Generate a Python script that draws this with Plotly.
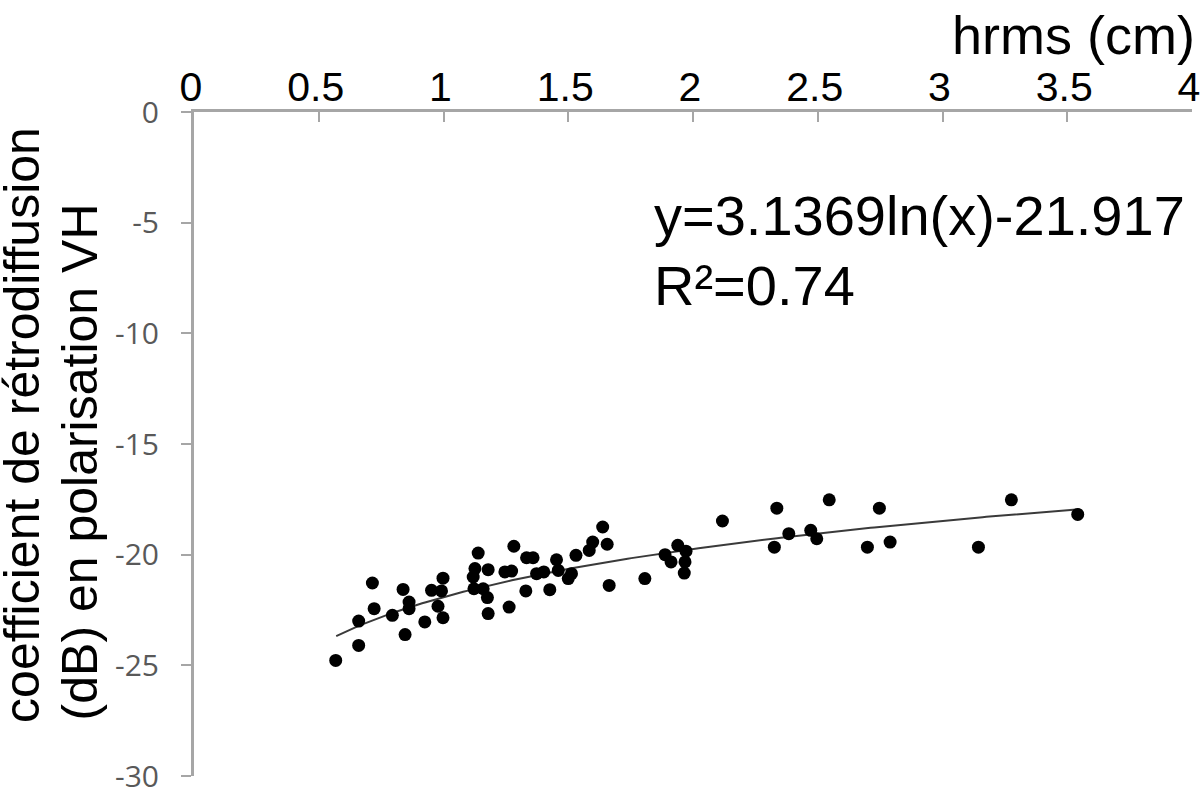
import numpy as np
import plotly.graph_objects as go

# --- data ---
hrms = [0.568, 0.66, 0.66, 0.715, 0.722, 0.795, 0.838, 0.846, 0.862, 0.862,
        0.925, 0.952, 0.978, 0.992, 0.998, 0.998, 1.139, 1.126, 1.119, 1.122,
        1.159, 1.179, 1.176, 1.179, 1.246, 1.273, 1.263, 1.282, 1.333, 1.359,
        1.330, 1.373, 1.402, 1.426, 1.453, 1.460, 1.500, 1.513, 1.531, 1.584,
        1.598, 1.638, 1.656, 1.664, 1.807, 1.888, 1.912, 1.939, 1.972, 1.968,
        1.965, 2.118, 2.336, 2.326, 2.384, 2.472, 2.496, 2.546, 2.699, 2.747,
        2.790, 3.144, 3.276, 3.542]
sigma_vh = [-24.78, -24.10, -23.00, -21.28, -22.44, -22.74, -21.57, -23.61, -22.14, -22.44,
            -23.04, -21.61, -22.33, -21.64, -21.06, -22.85, -19.93, -20.63, -21.01, -21.54,
            -21.54, -20.68, -21.94, -22.66, -20.78, -20.74, -22.37, -19.62, -20.14, -20.14,
            -21.64, -20.86, -20.78, -21.58, -20.23, -20.71, -21.08, -20.86, -20.03, -19.81,
            -19.43, -18.75, -19.53, -21.39, -21.08, -20.00, -20.33, -19.58, -19.84, -20.33,
            -20.83, -18.48, -17.90, -19.66, -19.05, -18.90, -19.28, -17.52, -19.66, -17.90,
            -19.43, -19.66, -17.52, -18.18]

fit_a = 3.1369
fit_b = -21.917
fit_r2 = 0.74
fit_x_start = 0.57
fit_x_end = 3.55

x_ticks = [0, 0.5, 1, 1.5, 2, 2.5, 3, 3.5, 4]
x_tick_labels = ["0", "0.5", "1", "1.5", "2", "2.5", "3", "3.5", "4"]
y_ticks = [0, -5, -10, -15, -20, -25, -30]
y_tick_labels = ["0", "-5", "-10", "-15", "-20", "-25", "-30"]

x_title = "hrms (cm)"
y_title_1 = "coefficient de rétrodiffusion"
y_title_2 = "(dB) en polarisation VH"
eq_text = "y=3.1369ln(x)-21.917"
r2_text = "R²=0.74"

# --- figure ---
fx = np.linspace(fit_x_start, fit_x_end, 200)
fy = fit_a * np.log(fx) + fit_b

fig = go.Figure()
fig.add_trace(go.Scatter(x=fx, y=fy, mode="lines",
                         line=dict(color="#3a3a3a", width=2),
                         hoverinfo="skip", showlegend=False))
fig.add_trace(go.Scatter(x=hrms, y=sigma_vh, mode="markers",
                         marker=dict(color="black", size=13),
                         showlegend=False))

W, H = 1200, 792
left, right, top, bottom = 194.4, 1191.7, 111.5, 775.6

axis_col = "#a6a6a6"
fig.update_layout(
    width=W, height=H,
    margin=dict(l=left, r=W - right, t=top, b=H - bottom, autoexpand=False),
    paper_bgcolor="white", plot_bgcolor="white",
    xaxis=dict(range=[0, 4], side="top", tickvals=x_ticks, ticktext=x_tick_labels,
               showgrid=False, zeroline=False, showline=True, linecolor=axis_col,
               linewidth=3, ticks="inside", ticklen=10, tickwidth=2, tickcolor=axis_col,
               tickfont=dict(family="Liberation Sans, Arial", size=41, color="black"),
               ticklabelstandoff=-8, ticklabelshift=-3, ticklabeloverflow="allow"),
    yaxis=dict(range=[-30, 0], tickvals=y_ticks, ticktext=y_tick_labels,
               showgrid=False, zeroline=False, showline=True, linecolor=axis_col,
               linewidth=3, ticks="outside", ticklen=10, tickwidth=2, tickcolor=axis_col,
               tickfont=dict(family="Open Sans", size=30, color="#595959"),
               ticklabelstandoff=16, ticklabeloverflow="allow"),
)

pw, ph = right - left, bottom - top


def px(xp):
    return (xp - left) / pw


def py(yp):
    return (bottom - yp) / ph


anns = [
    dict(text=x_title, x=px(1197), y=py(34), xanchor="right", yanchor="middle",
         font=dict(family="Liberation Sans, Arial", size=54, color="black")),
    dict(text=eq_text, x=px(652), y=py(215), xanchor="left", yanchor="middle",
         font=dict(family="Liberation Sans, Arial", size=56, color="black")),
    dict(text=r2_text, x=px(652), y=py(285), xanchor="left", yanchor="middle",
         font=dict(family="Liberation Sans, Arial", size=56, color="black")),
    dict(text=y_title_1, x=px(23), y=py(724), xanchor="center", yanchor="bottom",
         textangle=-90, font=dict(family="Liberation Sans, Arial", size=50, color="black")),
    dict(text=y_title_2, x=px(80), y=py(722), xanchor="center", yanchor="bottom",
         textangle=-90, font=dict(family="Liberation Sans, Arial", size=50, color="black")),
]
for a in anns:
    a.update(xref="paper", yref="paper", showarrow=False)
    fig.add_annotation(**a)

fig.write_html(
    "out.html",
    config={"displayModeBar": False},
    post_script="document.body.style.margin='0';document.body.style.overflow='hidden';",
)
